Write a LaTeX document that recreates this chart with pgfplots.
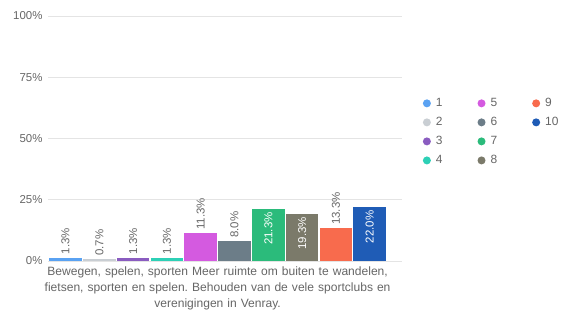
\documentclass[border=0pt]{standalone}
\usepackage{fontspec}
\setmainfont{Liberation Sans}
\usepackage{pgfplots}
\pgfplotsset{compat=1.18}
\frenchspacing
\definecolor{c1}{HTML}{5AA2F2}
\definecolor{c2}{HTML}{C9CED3}
\definecolor{c3}{HTML}{8A5CC0}
\definecolor{c4}{HTML}{2DD0B6}
\definecolor{c5}{HTML}{D45AE0}
\definecolor{c6}{HTML}{6C7D88}
\definecolor{c7}{HTML}{2BBB7B}
\definecolor{c8}{HTML}{7B7A6A}
\definecolor{c9}{HTML}{F86B4D}
\definecolor{c10}{HTML}{1F5CB6}
\definecolor{tickgray}{HTML}{666666}
\definecolor{gridgray}{HTML}{E4E4E4}
\pgfplotsset{dotlegend/.style={legend image code/.code={\fill[##1,draw=none] (0.3em,0) circle (4bp);}}}
\newcommand\xlab{Bewegen, spelen, sporten Meer ruimte om buiten te wandelen,\\fietsen, sporten en spelen. Behouden van de vele sportclubs en\\verenigingen in Venray.}
\begin{document}
\begin{tikzpicture}
\path[use as bounding box] (0,0) rectangle (566bp,313bp);
\begin{axis}[
  at={(48bp,52bp)}, anchor=south west,
  scale only axis, width=354bp, height=245bp,
  ybar, bar width=0.96, bar shift=0pt,
  xmin=-0.518, xmax=9.955,
  ymin=0, ymax=100,
  ytick={0,25,50,75,100},
  yticklabel={\pgfmathprintnumber{\tick}\%},
  /pgf/number format/assume math mode=true,
  ymajorgrids, grid style={gridgray, line width=0.8bp},
  axis line style={draw=none},
  major tick length=0pt,
  tick label style={font=\fontsize{11.5}{13}\selectfont, color=tickgray},
  yticklabel style={xshift=-2bp},
  xtick={4.5},
  xticklabels={{{\xlab}}},
  xticklabel style={align=center, text width=370bp, yshift=-2.5bp, font=\fontsize{12.1}{16}\selectfont},
  nodes near coords={\pgfmathprintnumber[fixed,fixed zerofill,precision=1]{\pgfplotspointmeta}\%},
  every node near coord/.append style={rotate=90, anchor=west, font=\fontsize{11.5}{13}\selectfont, color=tickgray},
  legend style={at={(1.05,0.527)}, anchor=west, draw=none, fill=none,
    font=\fontsize{12}{14}\selectfont, text=tickgray,
    /tikz/every odd column/.append style={column sep=3bp},
    /tikz/every even column/.append style={column sep=33bp},
    row sep=5.2bp},
  legend cell align=left,
  legend columns=3,
]
\addplot[fill=c1, draw=none, forget plot] coordinates {(0,1.3)};
\addplot[fill=c2, draw=none, forget plot] coordinates {(1,0.7)};
\addplot[fill=c3, draw=none, forget plot] coordinates {(2,1.3)};
\addplot[fill=c4, draw=none, forget plot] coordinates {(3,1.3)};
\addplot[fill=c5, draw=none, forget plot] coordinates {(4,11.3)};
\addplot[fill=c6, draw=none, forget plot] coordinates {(5,8.0)};
\addplot[fill=c7, draw=none, forget plot, every node near coord/.append style={anchor=east, color=white}] coordinates {(6,21.3)};
\addplot[fill=c8, draw=none, forget plot, every node near coord/.append style={anchor=east, color=white}] coordinates {(7,19.3)};
\addplot[fill=c9, draw=none, forget plot] coordinates {(8,13.3)};
\addplot[fill=c10, draw=none, forget plot, every node near coord/.append style={anchor=east, color=white}] coordinates {(9,22.0)};
\addlegendimage{fill=c1,dotlegend}\addlegendentry{1}
\addlegendimage{fill=c5,dotlegend}\addlegendentry{5}
\addlegendimage{fill=c9,dotlegend}\addlegendentry{9}
\addlegendimage{fill=c2,dotlegend}\addlegendentry{2}
\addlegendimage{fill=c6,dotlegend}\addlegendentry{6}
\addlegendimage{fill=c10,dotlegend}\addlegendentry{10}
\addlegendimage{fill=c3,dotlegend}\addlegendentry{3}
\addlegendimage{fill=c7,dotlegend}\addlegendentry{7}
\addlegendimage{empty legend}\addlegendentry{}
\addlegendimage{fill=c4,dotlegend}\addlegendentry{4}
\addlegendimage{fill=c8,dotlegend}\addlegendentry{8}
\end{axis}
\end{tikzpicture}
\end{document}
